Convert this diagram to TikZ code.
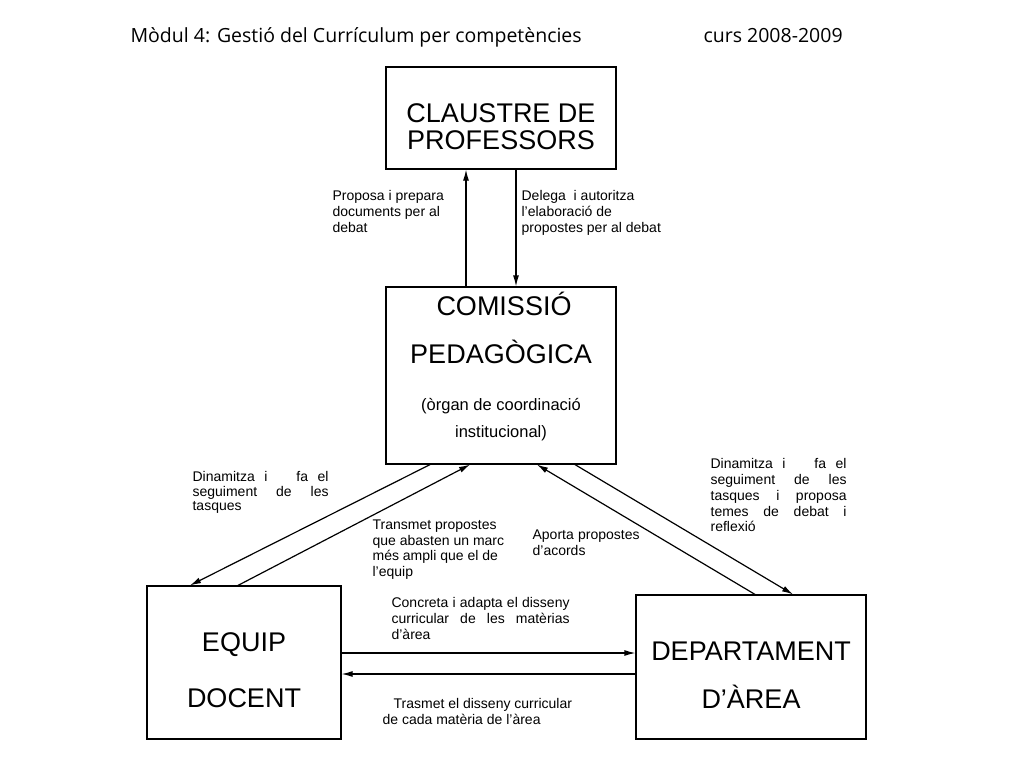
\documentclass[tikz,border=0pt]{standalone}
\usepackage{fontspec}
\setmainfont{Liberation Sans}
\newfontfamily\headfont{Open Sans}
\usetikzlibrary{arrows.meta}
\newcommand{\boxfont}{\fontsize{27}{27}\selectfont}
\newcommand{\labelfont}{\fontsize{14}{15.8}\selectfont}
\begin{document}
\begin{tikzpicture}[x=1pt,y=-1pt,line width=1.2pt,
  box/.style={draw,rectangle,inner sep=0pt},
  big/.style={anchor=base,inner sep=0pt,font=\boxfont},
  lbl/.style={anchor=north west,inner sep=0pt,font=\labelfont,align=left},
  jlbl/.style={anchor=north west,inner sep=0pt,font=\labelfont,align=justify},
  arr/.style={-{Latex[length=11pt,width=6pt]}}]

  \useasboundingbox (0,0) rectangle (1024,768);

  %header
  \node[anchor=base west,inner sep=0pt,font=\headfont\fontsize{19.5}{19.5}\selectfont] (title) at (130,42) {Mòdul 4: Gestió del Currículum per competències};
  \node[anchor=base west,inner sep=0pt,font=\headfont\fontsize{19.5}{19.5}\selectfont] (year) at (703,42) {curs 2008-2009};

  %boxes
  \node[box,minimum width=230pt,minimum height=102pt] (claustre) at (501,118) {};
  \node[box,minimum width=230pt,minimum height=177pt] (comissio) at (501,375.5) {};
  \node[box,minimum width=194pt,minimum height=153pt] (equip) at (244,662.5) {};
  \node[box,minimum width=230pt,minimum height=144pt] (dept) at (751,667) {};

  %box texts
  \node[big] (cl1) at (501,122) {CLAUSTRE DE};
  \node[big] (cl2) at (501,149) {PROFESSORS};
  \node[big] (co1) at (504,315) {COMISSIÓ};
  \node[big] (co2) at (501,363) {PEDAGÒGICA};
  \node[anchor=base,inner sep=0pt,font=\fontsize{16.5}{16.5}\selectfont] (co3) at (501,410) {(òrgan de coordinació};
  \node[anchor=base,inner sep=0pt,font=\fontsize{16.5}{16.5}\selectfont] (co4) at (501,437) {institucional)};
  \node[big] (eq1) at (244,651) {EQUIP};
  \node[big] (eq2) at (244,707) {DOCENT};
  \node[big] (de1) at (751,660) {DEPARTAMENT};
  \node[big] (de2) at (751,708) {D’ÀREA};

  %arrows
  \draw[arr] ([xshift=-35pt]comissio.north) -- ([xshift=-35pt]claustre.south);
  \draw[arr] ([xshift=15pt]claustre.south) -- ([xshift=15pt]comissio.north);
  \draw[arr] ([xshift=-71pt]comissio.south) -- ([xshift=-54pt]equip.north);
  \draw[arr] ([xshift=-6pt]equip.north) -- ([xshift=-31pt]comissio.south);
  \draw[arr] ([xshift=4pt]dept.north) -- ([xshift=36pt]comissio.south);
  \draw[arr] ([xshift=74pt]comissio.south) -- ([xshift=42pt]dept.north);
  \draw[arr] ([yshift=9.5pt]equip.east) -- ([yshift=14pt]dept.west);
  \draw[arr] ([yshift=-7pt]dept.west) -- ([yshift=-11.5pt]equip.east);

  %labels
  \node[lbl] (proposa) at (332,190) {Proposa i prepara\\documents per al\\debat};
  \node[lbl] (delega) at (521,190) {Delega\ \ i autoritza\\l’elaboració de\\propostes per al debat};
  \node[jlbl,text width=136pt,font=\fontsize{14}{14.6}\selectfont] (dinl) at (192,471) {Dinamitza i\ \ \ fa el\linebreak seguiment de les\linebreak tasques};
  \node[lbl] (transmet) at (372,519) {Transmet propostes\\que abasten un marc\\més ampli que el de\\l’equip};
  \node[jlbl,text width=107pt] (aporta) at (532,529) {Aporta propostes\linebreak d’acords};
  \node[jlbl,text width=136pt] (dinr) at (710,458) {Dinamitza i\ \ \ fa el\linebreak seguiment de les\linebreak tasques i proposa\linebreak temes de debat i\linebreak reflexió};
  \node[jlbl,text width=178pt] (concreta) at (391,597) {Concreta i adapta el disseny\linebreak curricular de les matèrias\linebreak d’àrea};
  \node[lbl] (trasmet) at (382,698) {\hspace{11pt}Trasmet el disseny curricular\\de cada matèria de l’àrea};

\end{tikzpicture}
\end{document}
